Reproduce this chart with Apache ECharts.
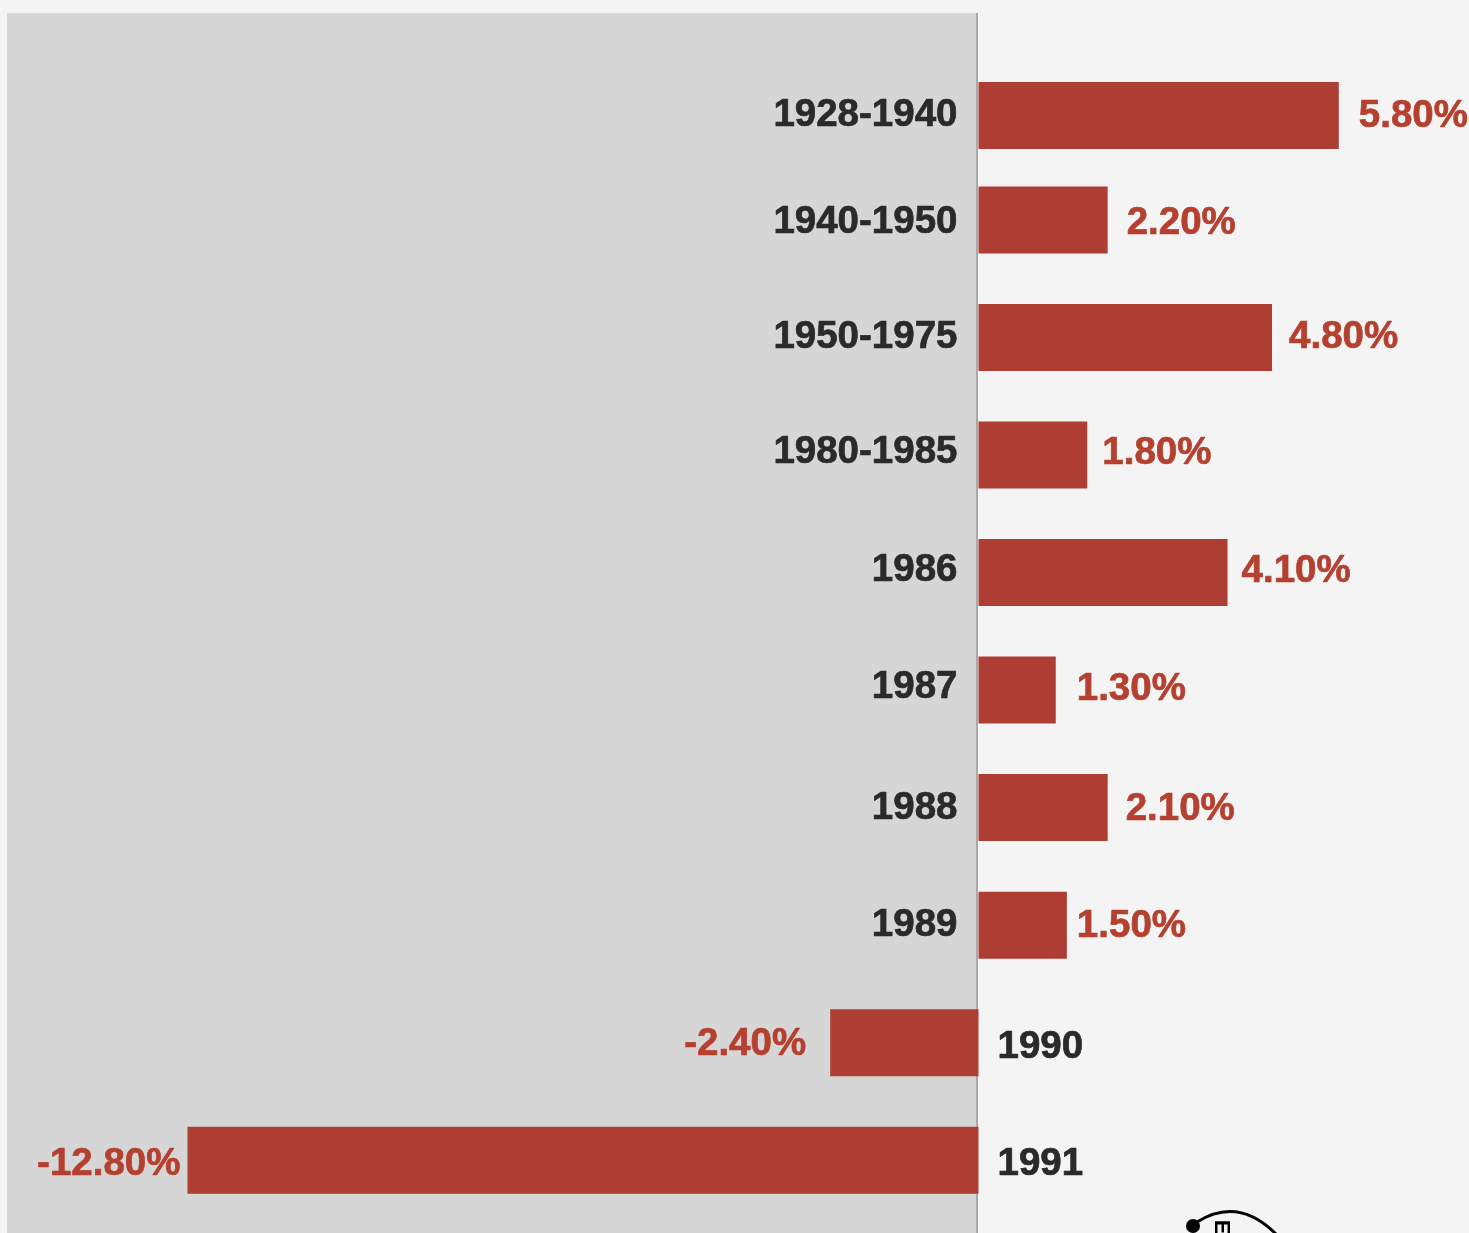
<!DOCTYPE html>
<html><head><meta charset="utf-8">
<style>html,body{margin:0;padding:0;background:#f4f4f4}#c{width:1469px;height:1233px}</style>
<script src="https://cdn.jsdelivr.net/npm/echarts@6/dist/echarts.min.js"></script>
</head><body><div id="c"></div>
<script>
// chart content
const periods = ['1928-1940','1940-1950','1950-1975','1980-1985','1986','1987','1988','1989','1990','1991'];
const valueLabels = ['5.80%','2.20%','4.80%','1.80%','4.10%','1.30%','2.10%','1.50%','-2.40%','-12.80%'];
// bar lengths (percentage points)
const barValues = [5.83,2.09,4.75,1.76,4.03,1.25,2.09,1.43,-2.4,-12.8];

// layout only: uneven row spacing (in fine axis rows), label gaps and vertical nudges
const leadRows = 8, totalRows = 94;
const rowSteps = [0,8,9,9,9,9,9,9,9,9];
const valueGap = [20,19,17,15,14,21,18,10,24,7];
const valueNudge = [1,3,0,-2,-1,-1,2,1,2,4];
const periodNudge = [0,2,0,-3,-2,-3,1,0,5,4];

const BAR = '#ae3e33', TXT = '#b5402f', INK = '#2a2a2a';
const rowIndex = []; 
rowSteps.reduce((a,s,i)=>{ rowIndex[i]=a+s; return a+s; }, leadRows);
const rows = Array.from({length: totalRows}, (_,i)=>{ const k=rowIndex.indexOf(i); return k>=0?periods[k]:''; });
const atRow = fn => rows.map((_,i)=>{ const k=rowIndex.indexOf(i); return k>=0?fn(k):null; });
const FONT = {fontFamily:'"Liberation Sans",Arial,sans-serif',fontWeight:'bold',fontSize:38.5,textBorderWidth:0.7};

const chart = echarts.init(document.getElementById('c'),null,{renderer:'canvas'});
chart.setOption({
  animation:false,
  backgroundColor:'#f4f4f4',
  grid:{left:0,right:0,top:4.5,bottom:1,containLabel:false},
  xAxis:{type:'value',min:-978.5/61.8,max:490.5/61.8,show:false},
  yAxis:{type:'category',inverse:true,data:rows,show:false},
  graphic:[
    {type:'rect',shape:{x:7,y:13,width:970,height:1220},style:{fill:'#d6d6d6'},z:0},
    {type:'line',shape:{x1:977,y1:13,x2:977,y2:1233},style:{stroke:'#a9a9a9',lineWidth:2},z:1},
    {type:'circle',shape:{cx:1193,cy:1226,r:7},style:{fill:'#000'},z:5},
    {type:'bezierCurve',shape:{x1:1197,y1:1222,x2:1276,y2:1234,cpx1:1238,cpy1:1196},style:{fill:'none',stroke:'#000',lineWidth:3},z:5},
    {type:'text',x:1221,y:1227,rotation:-Math.PI/2,style:{text:'E',fontFamily:'"Liberation Sans",Arial,sans-serif',fontWeight:'bold',fontSize:22,fill:'#000',align:'center',verticalAlign:'middle'},z:5}
  ],
  series:[
    {type:'bar',barWidth:67,barGap:'-100%',itemStyle:{color:BAR},z:3,
     data:atRow(k=>({value:barValues[k],label:{show:true,
        position:barValues[k]<0?'left':'right',distance:valueGap[k],
        offset:[0,valueNudge[k]],formatter:valueLabels[k],color:TXT,textBorderColor:TXT,...FONT}}))},
    {type:'bar',barWidth:67,barGap:'-100%',itemStyle:{color:'transparent'},z:4,silent:true,
     data:atRow(k=>({value:0,label:{show:true,
        position:barValues[k]<0?'right':'left',distance:barValues[k]<0?19:21,
        offset:[0,periodNudge[k]],formatter:periods[k],color:INK,textBorderColor:INK,...FONT}}))}
  ]
});
</script></body></html>
